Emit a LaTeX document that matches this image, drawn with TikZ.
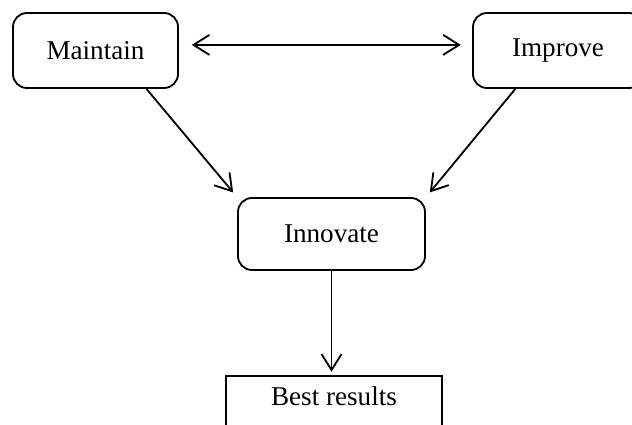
\documentclass[tikz,border=0pt]{standalone}
\usepackage{fontspec}
\setmainfont{Liberation Serif}
\usetikzlibrary{arrows.meta}
\begin{document}
\begin{tikzpicture}[x=0.025cm, y=-0.025cm, line width=1.3pt,
		box/.style={draw, rounded corners=0.35cm, minimum width=4.125cm, minimum height=1.875cm, font=\fontsize{19.3}{23}\selectfont},
		arr/.style={-{Straight Barb[length=0.4cm,width=0.5cm]}},
		darr/.style={{Straight Barb[length=0.4cm,width=0.5cm]}-{Straight Barb[length=0.4cm,width=0.5cm]}}]
		\clip (0,0) rectangle (632,425);
		\node (maintain) [box] at (95.5,50.5) {Maintain};
		\node (improve) [box, minimum width=4.25cm] at (558,50.5) {Improve};
		\node (innovate) [box, minimum width=4.675cm, minimum height=1.8cm] at (331.5,234) {Innovate};
		\node (best) [draw, anchor=north, minimum width=5.4cm, inner ysep=0.3cm, text height=0.45cm, text depth=0.6cm, font=\fontsize{19.3}{23}\selectfont] at (334,375) {Best results};
		\draw [darr, shorten <=0.32cm, shorten >=0.28cm] ([yshift=0.14cm]maintain.east) -- ([yshift=0.14cm]improve.west);
		\draw [arr, shorten >=0.15cm] (maintain.-37) -- (innovate.north west);
		\draw [arr, shorten >=0.15cm] (improve.222) -- (innovate.north east);
		\draw [arr, shorten >=0.08cm] (innovate.south) -- (innovate.south |- best.north);
\end{tikzpicture}
\end{document}
